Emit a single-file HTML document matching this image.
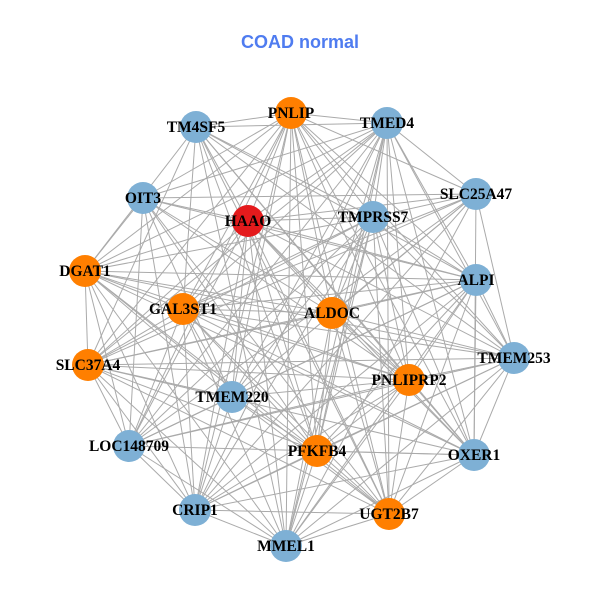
<!DOCTYPE html>
<html><head><meta charset="utf-8"><style>
html,body{margin:0;padding:0;background:#fff;width:600px;height:600px;overflow:hidden}
</style></head><body>
<svg id="s" width="600" height="600" xmlns="http://www.w3.org/2000/svg">
<rect width="600" height="600" fill="#fff"/>
<text x="300" y="48" text-anchor="middle" font-family="Liberation Sans, sans-serif" font-weight="bold" font-size="18" fill="#4f7cf0">COAD normal</text>
<g id="edges" stroke="#aaaaaa" stroke-width="1"></g>
<g id="nodes"></g>
<g id="labels" font-family="Liberation Serif, serif" font-weight="bold" font-size="15.5" fill="#000" text-anchor="middle"></g>
</svg>
<script>
var B="#7eb0d5",O="#ff7f00",R="#e41a1c";
var n=[["TM4SF5",196,127,B],["PNLIP",291,113,O],["TMED4",387,123,B],["OIT3",143,198,B],["HAAO",248,221,R],["TMPRSS7",373,217,B],["SLC25A47",476,194,B],["DGAT1",85,271,O],["GAL3ST1",183,309,O],["ALDOC",332,313,O],["ALPI",476,280,B],["SLC37A4",88,365,O],["TMEM220",232,397,B],["PNLIPRP2",409,380,O],["TMEM253",514,358,B],["LOC148709",129,446,B],["PFKFB4",317,451,O],["OXER1",474,455,B],["CRIP1",195,510,B],["UGT2B7",389,514,O],["MMEL1",286,546,B]];
var NS="http://www.w3.org/2000/svg",e=document.getElementById("edges"),nd=document.getElementById("nodes"),lb=document.getElementById("labels");
for(var i=0;i<n.length;i++)for(var j=i+1;j<n.length;j++){if((i*7+j*3)%9==0)continue;var l=document.createElementNS(NS,"line");l.setAttribute("x1",n[i][1]);l.setAttribute("y1",n[i][2]);l.setAttribute("x2",n[j][1]);l.setAttribute("y2",n[j][2]);e.appendChild(l);}
n.forEach(function(a){var c=document.createElementNS(NS,"circle");c.setAttribute("cx",a[1]);c.setAttribute("cy",a[2]);c.setAttribute("r",16);c.setAttribute("fill",a[3]);nd.appendChild(c);var t=document.createElementNS(NS,"text");t.setAttribute("x",a[1]);t.setAttribute("y",a[2]+5);t.textContent=a[0];lb.appendChild(t);});
</script>
</body></html>
